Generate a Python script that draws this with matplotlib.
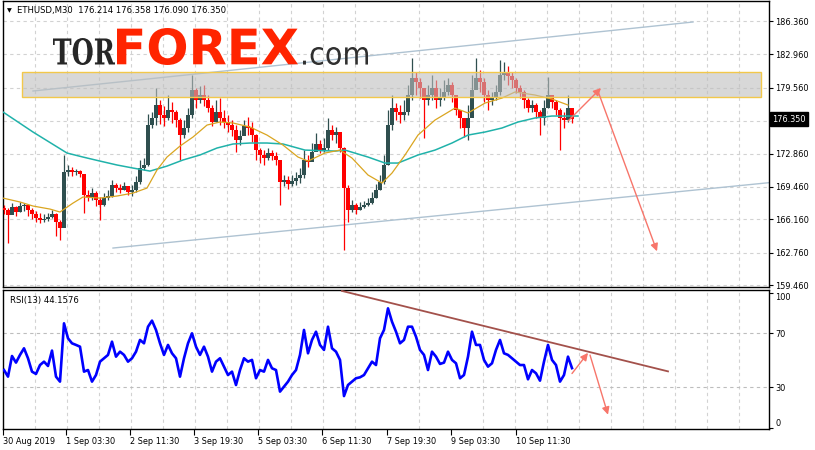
import numpy as np
import matplotlib
matplotlib.use("Agg")
import matplotlib.pyplot as plt
from matplotlib.patches import Rectangle, PathPatch
from matplotlib.textpath import TextPath
from matplotlib.font_manager import FontProperties
from matplotlib.transforms import Affine2D, IdentityTransform, blended_transform_factory

# ---------------------------------------------------------------------------
# Data (ETHUSD M30, one candle kept for every 4 bars)
# ---------------------------------------------------------------------------
first_open = 167.30

close = [
    167.10, 166.59, 167.41, 166.90, 167.51, 167.61, 167.10, 166.69, 166.29, 166.08, 166.18, 166.39, 166.69, 165.88, 165.27,
    170.97, 171.18, 170.97, 171.08, 170.77,
    168.63, 168.43, 168.83, 168.12, 167.61, 168.32, 168.53, 169.65, 169.34, 169.14, 169.55, 168.94, 169.14, 169.95, 171.38, 171.69,
    175.76, 176.48, 177.80, 176.78, 176.48, 177.29, 177.09, 176.27, 174.74, 175.46, 176.78,
    179.33, 178.31, 178.82, 178.31, 177.49, 176.07, 177.09, 176.48, 176.07, 175.76, 175.25, 174.23, 174.64, 175.66, 175.46, 174.74,
    173.21, 172.71, 172.40, 172.91, 172.60, 172.20,
    169.95, 170.16, 169.75, 170.06, 170.36, 170.67,
    172.20, 171.99, 173.01, 173.83, 173.21, 173.42, 175.25, 174.74, 175.05, 173.42,
    169.34, 167.10, 167.61, 167.10, 167.41, 167.61, 167.81, 168.32, 169.14, 169.95, 171.69,
    175.76, 177.49, 177.09, 176.78, 177.09, 178.82, 180.55, 180.14, 179.53, 178.31, 178.82, 179.53, 178.31, 178.51, 179.13, 179.84, 178.82,
    177.29, 176.48, 175.46, 176.48, 179.33, 180.55, 180.14, 178.82, 178.31, 178.51, 179.13,
    180.86, 181.16, 180.76, 180.35, 179.53, 179.13, 178.31, 177.49, 177.80, 177.09, 176.48, 177.49, 178.82, 178.11, 177.29, 176.48, 176.27, 177.49, 176.35,
]

high = [
    167.61, 167.30, 167.81, 167.51, 167.92, 167.81, 167.61, 167.30, 167.00, 166.80, 166.69, 166.80, 167.10, 166.80, 166.08,
    172.71, 171.69, 171.48, 171.28, 171.18,
    170.77, 169.14, 169.34, 169.04, 168.43, 168.83, 169.14, 170.16, 169.85, 169.75, 169.95, 169.55, 169.65, 170.57, 172.20, 172.40,
    176.88, 177.09, 179.53, 178.31, 177.70, 178.82, 178.11, 177.29, 176.48, 176.27, 177.49,
    180.86, 179.53, 179.74, 179.84, 178.82, 177.80, 178.31, 178.51, 177.29, 176.78, 176.27, 175.76, 175.25, 176.27, 176.58, 176.07,
    174.85, 173.42, 173.21, 173.42, 173.21, 173.01,
    172.20, 170.67, 170.57, 170.67, 170.97, 171.38,
    173.21, 172.71, 173.93, 174.95, 174.23, 174.44, 176.48, 175.76, 175.56, 174.74,
    173.52, 169.65, 168.12, 167.81, 167.92, 168.02, 168.32, 168.94, 169.75, 170.67, 172.71,
    177.29, 178.82, 178.00, 177.80, 178.31, 179.84, 182.59, 181.16, 180.55, 179.53, 179.84, 180.86, 180.35, 179.53, 180.35, 180.55, 180.14,
    178.82, 177.29, 176.48, 177.80, 180.86, 182.59, 181.37, 180.55, 179.33, 179.13, 179.84,
    182.39, 182.18, 181.77, 181.16, 180.55, 179.84, 179.33, 178.51, 178.31, 178.00, 177.29, 178.31, 180.65, 178.72, 178.31, 177.49, 177.09, 178.82, 177.49,
]

low = [
    166.69, 163.74, 166.69, 166.49, 166.90, 167.00, 166.49, 166.18, 165.88, 165.78, 165.88, 165.98, 166.29, 164.45, 164.04,
    165.57, 170.57, 170.57, 170.67, 170.46,
    166.80, 168.02, 168.12, 167.51, 166.08, 167.51, 168.12, 168.43, 168.94, 168.83, 169.14, 168.63, 168.53, 168.94, 169.75, 171.18,
    171.58, 175.46, 175.76, 175.86, 175.66, 176.27, 175.97, 175.56, 172.20, 174.44, 175.05,
    176.48, 177.49, 178.00, 177.70, 177.09, 175.66, 176.07, 175.76, 175.46, 175.05, 174.64, 173.01, 173.72, 175.05, 174.74, 174.03,
    172.20, 171.89, 171.69, 172.20, 172.20, 171.69,
    167.61, 169.55, 169.24, 169.55, 169.65, 169.85,
    170.36, 171.48, 172.20, 173.21, 172.91, 173.01, 173.21, 174.23, 173.93, 173.01,
    163.02, 165.88, 166.90, 166.69, 167.10, 167.30, 167.51, 167.71, 168.32, 169.14, 169.75,
    171.69, 175.25, 176.27, 175.97, 176.27, 176.78, 178.31, 178.82, 178.51, 174.44, 177.80, 178.31, 177.49, 177.70, 178.31, 178.82, 178.11,
    176.78, 175.46, 174.54, 174.23, 177.09, 179.53, 179.13, 178.11, 177.29, 177.80, 178.31,
    178.82, 180.35, 179.84, 179.53, 179.02, 178.51, 177.49, 177.09, 177.09, 176.48, 174.74, 175.76, 177.49, 177.49, 176.78, 173.21, 175.46, 176.07, 175.97,
]

rsi = [
    42.8, 37.9, 53.2, 48.3, 54.0, 58.9, 51.5, 41.6, 39.9, 46.5, 49.0, 45.8, 57.2, 37.9, 34.2,
    77.4, 66.3, 62.6, 61.4, 60.1,
    41.6, 42.8, 34.2, 39.1, 49.0, 51.5, 54.0, 63.8, 52.7, 56.4, 54.0, 49.0, 51.5, 56.4, 65.1, 62.6,
    74.9, 79.4, 72.5, 62.6, 54.0, 61.4, 55.2, 51.5, 37.9, 51.5, 62.6,
    70.0, 60.1, 54.0, 60.1, 52.7, 41.6, 49.0, 51.5, 45.3, 39.1, 41.6, 31.7, 42.8, 51.5, 49.0, 50.3,
    36.7, 42.8, 41.6, 50.3, 44.1, 42.8,
    26.8, 30.5, 34.2, 39.1, 42.8, 54.0,
    72.5, 55.2, 65.1, 71.2, 61.4, 57.7, 74.9, 58.9, 56.4, 50.3,
    23.5, 31.7, 34.2, 36.7, 37.4, 39.1, 44.1, 49.0, 46.5, 66.3, 72.5,
    88.5, 78.6, 71.2, 62.6, 65.1, 74.9, 74.9, 67.5, 57.7, 54.0, 42.8, 56.4, 52.7, 47.3, 48.3, 56.4, 50.3,
    47.8, 36.7, 39.1, 52.7, 71.2, 61.4, 61.4, 50.3, 45.3, 47.8, 57.7,
    65.1, 55.2, 54.0, 51.5, 49.0, 46.5, 46.5, 35.9, 42.8, 40.4, 34.9, 49.0, 61.4, 50.3, 46.5, 34.2, 39.1, 52.7, 44.2,
]

# moving averages (bar index, price)
ma_slow_t = [-1, 29, 63, 79, 96, 113, 129, 146, 163, 179, 196, 213, 229, 246, 263, 279, 301, 331, 341,
             364, 381, 394, 414, 431, 448, 464, 481, 498, 514, 531, 548, 564, 574]
ma_slow = [177.09, 175.05, 172.91, 172.50, 172.09, 171.69, 171.38, 171.07, 171.58, 172.20, 172.71, 173.42,
           173.83, 173.93, 173.93, 173.83, 173.21, 173.11, 173.21, 172.50, 171.89, 171.89, 172.71, 173.21,
           173.93, 174.74, 175.05, 175.46, 176.07, 176.48, 176.68, 176.68, 176.68]
ma_fast_t = [-1, 16, 29, 46, 56, 69, 79, 96, 113, 129, 143, 153, 163, 176, 189, 203, 216, 229, 246, 263,
             279, 294, 304, 321, 336, 348, 364, 378, 388, 401, 414, 431, 451, 464, 481, 498, 511, 531, 548, 564]
ma_fast = [168.32, 167.92, 167.51, 167.20, 166.90, 167.81, 168.43, 168.32, 168.53, 168.83, 169.34, 171.18,
           172.50, 173.62, 174.54, 175.76, 176.07, 175.97, 175.56, 174.74, 173.72, 172.50, 172.09, 172.91,
           173.21, 172.40, 170.67, 169.85, 170.87, 172.71, 174.74, 176.27, 177.49, 176.99, 178.00, 178.51,
           179.13, 178.82, 178.41, 177.80]

# analysis drawings
zone_t = [18, 757]
zone_price = [178.62, 181.16]
channel_upper = ([29, 689], [179.23, 186.26])
channel_lower = ([109, 771], [163.23, 169.95])
price_arrows = [((564, 176.17), (597, 179.53)), ((594, 179.20), (653, 162.90))]
rsi_trend = ([338, 664], [101.4, 41.8])
rsi_arrows = [((568, 40.2), (584, 55.5)), ((586, 53.9), (604, 9.7))]

price_ticks = [186.36, 182.96, 179.56, 176.16, 172.86, 169.46, 166.16, 162.76, 159.46]
time_ticks = [-1, 62, 126, 190, 254, 318, 383, 447, 512]
time_labels = ["30 Aug 2019", "1 Sep 03:30", "2 Sep 11:30", "3 Sep 19:30", "5 Sep 03:30",
               "6 Sep 11:30", "7 Sep 19:30", "9 Sep 03:30", "10 Sep 11:30"]
grid_t = list(range(31, 740, 32))

# ---------------------------------------------------------------------------
# Figure
# ---------------------------------------------------------------------------
W, H = 815, 450
FS = 5.9
GRID = dict(color="#D2D2D2", lw=0.8, linestyle=(0, (3, 3)))
BULL, BEAR = "#2F4F4F", "#FF0000"
ARROW = "#F7756A"

plt.rcParams["font.family"] = "DejaVu Sans"
fig = plt.figure(figsize=(W / 100, H / 100), dpi=100)
fig.patch.set_facecolor("white")

ax = fig.add_axes([3 / W, 1 - 287 / H, 766 / W, 286 / H])
rax = fig.add_axes([3 / W, 1 - 429 / H, 766 / W, 139 / H], sharex=ax)

close = np.array(close)
high = np.array(high)
low = np.array(low)
open_ = np.r_[first_open, close[:-1]]
bar_idx = np.arange(len(close)) * 4
colors = np.where(close >= open_, BULL, BEAR)

ax.vlines(bar_idx, low, high, colors=colors, lw=0.9, zorder=3)
ax.bar(bar_idx, np.maximum(np.abs(close - open_), 0.06), bottom=np.minimum(open_, close),
       width=3.3, color=colors, lw=0, zorder=3)

ax.plot(ma_slow_t, ma_slow, color="#20B2AA", lw=1.1, zorder=4)
ax.plot(ma_fast_t, ma_fast, color="#DAA520", lw=0.9, zorder=4)

ax.plot(*channel_upper, color="#AFC3D2", lw=1.0, zorder=2)
ax.plot(*channel_lower, color="#AFC3D2", lw=1.0, zorder=2)

ax.add_patch(Rectangle((zone_t[0], zone_price[0]), zone_t[1] - zone_t[0], zone_price[1] - zone_price[0],
                       facecolor="#BEBEBE", alpha=0.6, edgecolor="none", zorder=5))
ax.add_patch(Rectangle((zone_t[0], zone_price[0]), zone_t[1] - zone_t[0], zone_price[1] - zone_price[0],
                       facecolor="none", edgecolor="#F2C84B", lw=1.0, zorder=5))

for tail, head in price_arrows:
    ax.annotate("", xy=head, xytext=tail,
                arrowprops=dict(arrowstyle="-|>", color=ARROW, lw=1.0, mutation_scale=11,
                                shrinkA=0, shrinkB=0), zorder=6)

ax.set_xlim(-1, 765)
ax.set_ylim(159.26, 188.40)
ax.yaxis.tick_right()
ax.set_yticks(price_ticks, labels=["" if abs(v - 176.16) < 1e-6 else f"{v:.3f}" for v in price_ticks])
ax.tick_params(axis="y", direction="out", length=3, width=0.8, pad=1.5, labelsize=FS)
ax.tick_params(axis="x", which="both", length=0, labelbottom=False)
ax.grid(axis="y", **GRID)

# shared vertical grid
ax.set_xticks(grid_t, minor=True)
ax.grid(axis="x", which="minor", **GRID)

ax.text(1.0045, 176.35, "176.350", transform=blended_transform_factory(ax.transAxes, ax.transData),
        color="white", fontsize=FS, va="center", ha="left", clip_on=False,
        bbox=dict(boxstyle="square,pad=0.28", fc="black", ec="black"))

# RSI panel
rax.plot(bar_idx, rsi, color="#0000FF", lw=1.9, zorder=3)
rax.axhline(70, **{**GRID, "color": "#BDBDBD"})
rax.axhline(30, **{**GRID, "color": "#BDBDBD"})
rax.plot(*rsi_trend, color="#A3514B", lw=1.3, zorder=4)
for tail, head in rsi_arrows:
    rax.annotate("", xy=head, xytext=tail,
                 arrowprops=dict(arrowstyle="-|>", color=ARROW, lw=1.0, mutation_scale=11,
                                 shrinkA=0, shrinkB=0), zorder=6)
rax.set_ylim(-0.9, 102.1)
rax.yaxis.tick_right()
rax.set_yticks([100, 70, 30, 0], labels=["100", "70", "30", "0"])
for lab in rax.get_yticklabels():
    if lab.get_text() == "100":
        lab.set_va("top")
    elif lab.get_text() == "0":
        lab.set_va("bottom")
rax.tick_params(axis="y", direction="out", length=3, width=0.8, pad=1.5, labelsize=FS)
rax.grid(axis="x", which="minor", **GRID)
rax.set_xticks(time_ticks, labels=time_labels)
rax.tick_params(axis="x", which="major", direction="out", length=4, width=0.8, pad=1.5, labelsize=FS)
rax.tick_params(axis="x", which="minor", length=0)
for lab in rax.get_xticklabels():
    lab.set_ha("left")
rax.set_xlim(-1, 765)

for a in (ax, rax):
    for s in a.spines.values():
        s.set_color("black")
        s.set_linewidth(1.0)

# header texts
fig.text(7 / W, 1 - 11 / H, "\u25BC", fontsize=4.5, va="center", ha="left")
fig.text(17 / W, 1 - 11 / H, "ETHUSD,M30  176.214 176.358 176.090 176.350", fontsize=6.1, va="center", ha="left")
rax.text(7 / 766, 1 - 10 / 139, "RSI(13) 44.1576", transform=rax.transAxes, fontsize=6.1, va="center", ha="left")


# logo, each word fitted into its pixel box (x0, top, x1, bottom)
def logo_word(text, box, color, family, weight="normal"):
    x0, y_top, x1, y_bot = box
    tp = TextPath((0, 0), text, size=100, prop=FontProperties(family=family, weight=weight))
    bb = tp.get_extents()
    tr = (Affine2D().translate(-bb.x0, -bb.y0)
          .scale((x1 - x0) / bb.width, (y_bot - y_top) / bb.height)
          .translate(x0, H - y_bot))
    fig.add_artist(PathPatch(tr.transform_path(tp), transform=IdentityTransform(),
                             fc=color, ec="none", zorder=10))


logo_word("TOR", (53, 38, 115, 65), "#262626", "DejaVu Serif", "bold")
logo_word("FOREX", (117, 28, 298, 65), "#FF2400", "DejaVu Sans", "bold")
logo_word(".com", (303, 47, 368, 65), "#303030", "DejaVu Sans")

fig.savefig("out.png", dpi=100)
